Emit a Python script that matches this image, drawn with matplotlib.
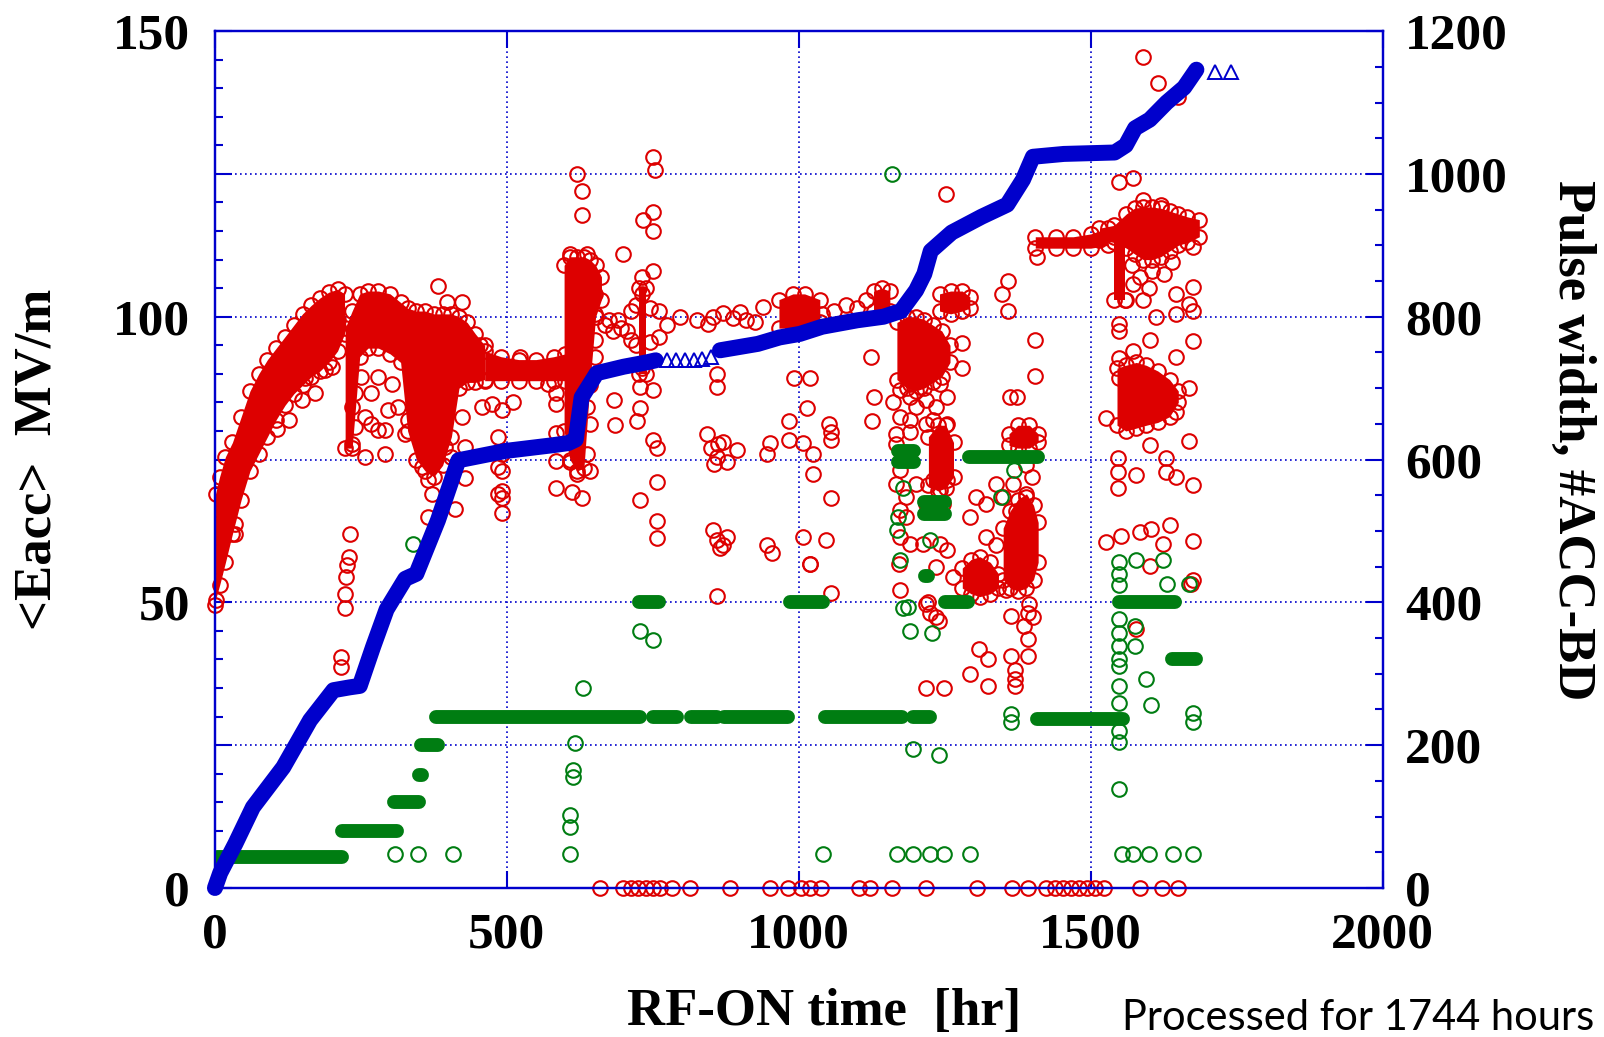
import numpy as np
import matplotlib.pyplot as plt
from matplotlib.ticker import MultipleLocator, FixedLocator, FixedFormatter

RED = '#dd0000'
GREEN = '#007d12'
BLUE = '#0000cc'

# ---- dense red clusters: RF-ON hours, lower / upper <Eacc> edge (MV/m) ----
band_a_t = [1, 8, 18, 30, 45, 60, 75, 90, 105, 120, 135, 150, 165, 180, 195, 210, 222]
band_a_lo = [50.5, 53, 57, 62, 68, 73, 76, 79, 82, 84.5, 86.5, 88, 89.5, 90.5, 92, 94, 97]
band_a_hi = [69, 72, 75.5, 78, 82.5, 87, 90, 92.5, 94.5, 96.5, 98.5, 100.5, 102, 103.3, 104.3, 104.8, 104]

band_b_t = [223, 235, 248, 262, 280, 300, 318, 330, 345, 360, 375, 390, 405, 418, 432, 446, 462]
band_b_lo = [77, 77, 93, 94.5, 94.5, 93.5, 92, 80, 75, 73, 72, 74, 79, 87.5, 88.5, 88.5, 89]
band_b_hi = [98, 101, 104, 104.5, 104.5, 104, 102.5, 101.5, 101, 101, 100.5, 100.5, 100.5, 100, 99, 97, 95]

band_h_t = [462, 490, 520, 550, 580, 600]
band_h_lo = [88.8, 88.8, 88.8, 88.8, 88.8, 88.8]
band_h_hi = [94, 93, 92.5, 92.5, 93, 93.5]

band_c_t = [598, 608, 620, 632, 642, 652, 662]
band_c_lo = [80, 75, 73, 73.5, 88, 100, 103]
band_c_hi = [109, 110.5, 110.5, 110.5, 110, 109, 107]

band_dv_t = [726, 738]
band_dv_lo = [90, 90]
band_dv_hi = [105, 105]

band_e1_t = [966, 990, 1010, 1036]
band_e1_lo = [98, 98, 98.5, 99]
band_e1_hi = [103, 104, 104, 103]

band_e2_t = [1128, 1142, 1156]
band_e2_lo = [101, 100.5, 101]
band_e2_hi = [104.5, 105, 104.5]

band_k_t = [1168, 1185, 1200, 1215, 1230, 1245, 1259]
band_k_lo = [89, 87.5, 87, 87.5, 88.5, 89.5, 92]
band_k_hi = [99, 100, 100, 99.5, 98.5, 97.5, 95]

band_kt_t = [1241, 1260, 1280, 1293]
band_kt_lo = [101, 100.5, 101, 101.5]
band_kt_hi = [104, 104.5, 104.5, 103.5]

band_kc_t = [1222, 1238, 1252, 1265]
band_kc_lo = [70.5, 69.5, 70, 72]
band_kc_hi = [79, 81, 81, 78]

band_l_t = [1350, 1362, 1375, 1390, 1402, 1410]
band_l_lo = [54, 52.5, 52, 52.5, 54, 57]
band_l_hi = [63, 66, 68, 69, 67, 64]

band_lb_t = [1360, 1375, 1395, 1410]
band_lb_lo = [77.5, 77, 77, 78]
band_lb_hi = [79.5, 81, 81, 79.5]

band_m_t = [1280, 1295, 1310, 1328, 1342]
band_m_lo = [52.5, 51.5, 51, 51.5, 52.5]
band_m_hi = [56, 57.5, 58, 57, 55]

band_n_t = [1405, 1440, 1470, 1500, 1530]
band_n_lo = [112, 112, 112, 112, 112.5]
band_n_hi = [114, 114, 114, 114.5, 115.5]

band_p_t = [1515, 1540, 1561, 1575, 1590, 1605, 1620, 1635, 1650, 1665, 1686]
band_p_lo = [113.5, 113, 112, 111, 110, 110, 110.5, 111.5, 112.5, 113, 114]
band_p_hi = [115.5, 116, 118, 119, 119.2, 119.2, 119, 118.5, 118, 117.5, 117]

band_pc_t = [1540, 1558]
band_pc_lo = [103, 103]
band_pc_hi = [114, 114]

band_q_t = [1545, 1560, 1578, 1595, 1615, 1635, 1650]
band_q_lo = [81, 80, 80.5, 81, 81.5, 82.5, 85]
band_q_hi = [91, 91.5, 92, 91.5, 90.5, 89, 87]

red_bands = [
    (band_a_t, band_a_lo, band_a_hi), (band_b_t, band_b_lo, band_b_hi),
    (band_h_t, band_h_lo, band_h_hi), (band_c_t, band_c_lo, band_c_hi),
    (band_dv_t, band_dv_lo, band_dv_hi),
    (band_e1_t, band_e1_lo, band_e1_hi), (band_e2_t, band_e2_lo, band_e2_hi),
    (band_k_t, band_k_lo, band_k_hi), (band_kt_t, band_kt_lo, band_kt_hi),
    (band_kc_t, band_kc_lo, band_kc_hi), (band_l_t, band_l_lo, band_l_hi),
    (band_lb_t, band_lb_lo, band_lb_hi), (band_m_t, band_m_lo, band_m_hi),
    (band_n_t, band_n_lo, band_n_hi), (band_p_t, band_p_lo, band_p_hi),
    (band_pc_t, band_pc_lo, band_pc_hi), (band_q_t, band_q_lo, band_q_hi),
]

# ---- single red points (hours, Eacc) ----
red_pts_early = [(0, 49.5), (34, 63.8), (34, 62), (106, 80.4), (126, 81.9), (149, 85.4), (171, 86.6),
                 (154, 89.2), (189, 90.6), (200, 91.2), (211, 98.2), (211, 99.4), (231, 62), (229, 58),
                 (227, 56.5), (225, 54.5), (223, 51.5), (222, 49), (216, 40.5), (216, 38.6)]
red_pts_b = [(234, 84.2), (257, 82.4), (268, 81.3), (280, 80.1), (291, 80.1), (297, 83.6), (314, 84.2),
             (331, 81.9), (326, 79.5), (291, 76), (257, 75.4), (234, 77.8), (240, 80.7), (280, 89.5),
             (303, 88.3), (268, 86.6), (240, 86.6), (251, 89.5), (457, 84.2), (474, 84.8), (491, 83.6),
             (423, 82.4), (394, 77.2), (405, 75.4), (428, 77.2), (382, 105.4), (397, 102.6), (423, 102.6),
             (355, 73.7), (365, 71.4), (371, 69), (365, 65), (411, 66.4), (429, 71.8), (485, 73.7),
             (485, 69), (492, 65.7), (485, 79), (492, 76)]
red_pts_c = [(510, 85), (492, 73), (492, 69.5), (492, 68.3), (585, 70), (611, 69.3), (629, 68.2),
             (585, 74.8), (585, 79.6), (585, 84.8), (571, 91), (571, 88.2), (585, 86.6), (454, 95),
             (522, 92.9), (620, 125), (629, 122), (629, 117.8), (608, 111), (637, 111), (608, 74.5),
             (620, 72.5), (642, 73), (651, 104), (651, 100.5), (651, 96), (651, 93), (637, 84.2),
             (642, 81.3), (637, 76)]
red_pts_d = [(750, 128), (753, 125.6), (734, 117), (750, 118.3), (750, 115), (699, 111), (750, 108),
             (797, 99.9), (728, 87.7), (750, 87.2), (683, 85.4), (685, 81), (728, 84), (723, 81.8),
             (750, 78.4), (758, 77), (757, 71), (728, 68), (758, 64.3), (758, 61.2), (860, 51.2),
             (668, 98.5), (682, 97.5), (696, 98), (706, 97.5), (675, 99.5), (690, 99.5), (825, 99.4),
             (853, 100), (887, 99.7), (910, 99.4), (939, 101.7), (845, 98.8), (870, 100.6), (900, 100.8),
             (925, 99), (712, 96), (712, 101), (722, 95), (722, 102), (745, 95.5), (745, 101.5),
             (760, 96.5), (760, 101), (775, 98.5), (732, 107), (732, 104), (732, 91)]
red_pts_e = [(842, 79.5), (850, 77), (860, 75.5), (870, 78), (877, 74.5), (855, 74.3), (862, 77.8),
             (853, 62.6), (860, 61), (870, 60), (877, 61.5), (865, 59.6), (895, 76.6), (860, 90),
             (860, 87.7), (951, 77.9), (946, 76), (946, 60), (954, 58.7), (991, 89.3), (1019, 89.3),
             (1014, 84), (984, 81.8), (984, 78.4), (1007, 77.9), (1024, 76), (1024, 72.5), (1007, 61.4),
             (1019, 56.7)]
red_pts_f = [(1124, 92.9), (1128, 85.9), (1126, 81.8), (1052, 81.3), (1056, 79.8), (1056, 78.4),
             (1056, 68.2), (1047, 60.9), (1056, 51.7), (1060, 101), (1080, 102), (1100, 101.5),
             (1040, 100.5), (1115, 103)]
red_pts_k = [(1173, 87.1), (1190, 85.9), (1161, 85.1), (1173, 82.4), (1190, 81.9), (1167, 79.5),
             (1201, 84.2), (1218, 85.4), (1235, 84.2), (1230, 81.9), (1253, 85.9), (1218, 81.3),
             (1241, 88.3), (1190, 88.3), (1207, 87.7), (1167, 77.8), (1190, 79.8), (1253, 81.3),
             (1173, 73.1), (1167, 70.8), (1201, 70.8), (1184, 68.5), (1241, 69.6), (1230, 71.4),
             (1253, 71.4), (1173, 66.1), (1184, 65), (1218, 67.3), (1247, 67.3), (1173, 61.5),
             (1190, 60.3), (1212, 60.3), (1241, 60.3), (1253, 59.1), (1235, 56.2), (1264, 54.5),
             (1173, 52.1), (1218, 49.8), (1235, 47.5), (1280, 95.4), (1280, 91), (1252, 121.5),
             (1172, 56.8)]
red_pts_l = [(1359, 106.3), (1348, 104), (1359, 101), (1404, 96), (1404, 89.7), (1408, 110.4),
             (1362, 85.9), (1374, 85.9), (1293, 65), (1304, 68.5), (1321, 67.3), (1338, 70.8),
             (1350, 68.5), (1367, 70.8), (1372, 66), (1390, 68.5), (1395, 61.5), (1338, 60),
             (1321, 61.5), (1304, 56.2), (1355, 52.1), (1395, 49.8), (1401, 47.5), (1390, 74),
             (1400, 72)]
red_pts_m = [(1218, 35), (1248, 35), (1324, 35.3), (1294, 37.4), (1309, 41.8), (1324, 40), (1370, 38.2),
             (1370, 36.5), (1370, 35.3), (1363, 40.6), (1393, 40.6), (1393, 43.5), (1385, 45.9),
             (1393, 48.2), (1363, 47.6), (1221, 50), (1225, 48.2), (1240, 46.8), (1019, 56.8)]
red_pts_p = [(1590, 145.5), (1615, 141), (1649, 138.4), (1549, 123.6), (1572, 124.2), (1589, 120.4),
             (1621, 119.5), (1675, 112.2), (1646, 104), (1675, 105.2), (1669, 102.2), (1646, 100.5),
             (1675, 101), (1549, 98.7), (1549, 97.5), (1601, 96), (1675, 95.8), (1646, 93), (1572, 94),
             (1549, 92.8), (1549, 89.3), (1669, 87.5), (1646, 83.4), (1526, 82.3), (1669, 78.2),
             (1601, 77.6), (1546, 75.2), (1546, 72.9), (1546, 70), (1578, 72.3), (1629, 72.9),
             (1646, 72), (1675, 70.5), (1629, 75.2), (1526, 60.5), (1552, 61.7), (1584, 62.3),
             (1604, 62.9), (1623, 60.3), (1635, 63.5), (1675, 60.8), (1601, 56.4), (1675, 54),
             (1578, 45.3), (1671, 53.2), (1560, 103), (1572, 105.7), (1590, 103), (1612, 100),
             (1600, 105), (1585, 107), (1605, 108), (1625, 107.5), (1570, 109), (1640, 109.5),
             (1560, 84), (1590, 86), (1620, 85.5), (1575, 88), (1610, 89)]
red_zero_t = [659, 699, 712, 725, 738, 750, 762, 783, 813, 882, 950, 981, 1004, 1019, 1038, 1103,
              1122, 1160, 1218, 1305, 1366, 1393, 1424, 1438, 1452, 1466, 1480, 1494, 1508, 1523,
              1584, 1622, 1649]

# ---- green (pulse width, left scale): bars of dense points (value, from hr, to hr) ----
green_bars = [(5.5, 3, 218), (10, 218, 312), (15, 306, 350), (25, 353, 382), (30, 378, 728),
              (30, 750, 792), (30, 815, 860), (30, 872, 982), (30, 1045, 1176), (30, 1196, 1224),
              (29.5, 1408, 1556), (50, 726, 760), (50, 985, 1042), (50, 1250, 1290), (50, 1548, 1645),
              (75.5, 1292, 1410), (74.5, 1170, 1198), (76.5, 1170, 1198), (65.5, 1214, 1250),
              (67.5, 1214, 1250), (40, 1640, 1680), (54.7, 1216, 1222), (19.8, 350, 355)]
green_pts = [(308, 6), (348, 6), (408, 6), (608, 6), (1042, 6), (1168, 6), (1195, 6), (1225, 6),
             (1248, 6), (1294, 6), (1553, 6), (1573, 6), (1599, 6), (1641, 6), (1676, 6),
             (340, 60.3), (630, 35), (616, 25.4), (613, 19.5), (613, 20.7), (608, 12.7), (608, 10.6),
             (728, 45), (750, 43.4), (1159, 125), (1178, 70), (1170, 65), (1168, 62.6), (1173, 57.5),
             (1224, 60.9), (1347, 68.4), (1369, 73.2), (1178, 49), (1187, 49.1), (1191, 45),
             (1229, 44.7), (1195, 24.4), (1240, 23.2),
             (1549, 57), (1549, 55), (1549, 53), (1549, 47), (1549, 44.7), (1549, 42.4), (1549, 40),
             (1549, 38.8), (1549, 35.3), (1549, 32.4), (1549, 27.4), (1549, 25.6), (1549, 17.4),
             (1578, 57.5), (1623, 57.5), (1630, 53.3), (1669, 53.3), (1576, 45.9), (1576, 42.4),
             (1595, 36.5), (1603, 32), (1675, 29), (1675, 30.6), (1363, 29), (1363, 30.5)]

# ---- blue: accumulated #ACC-BD (right scale) ----
blue_t = [0, 9, 35, 65, 117, 163, 203, 231, 248, 271, 294, 326, 345, 382, 417, 454, 497, 578,
          605, 618, 628, 654, 700, 739, 755]
blue_n = [0, 21, 62, 113, 169, 235, 277, 281, 283, 338, 390, 433, 440, 515, 599, 605, 612, 620,
          623, 628, 687, 721, 730, 736, 739]
blue2_t = [865, 930, 967, 1002, 1040, 1100, 1145, 1175, 1201, 1215, 1226, 1262, 1313, 1357, 1384,
           1401, 1454, 1541, 1560, 1576, 1601, 1630, 1660, 1681]
blue2_n = [753, 762, 771, 776, 786, 795, 800, 808, 837, 860, 892, 918, 940, 957, 992, 1024, 1028,
           1030, 1040, 1064, 1076, 1100, 1121, 1146]
blue_open_t = [775, 790, 805, 820, 835, 850, 1713, 1741]
blue_open_n = [739, 739, 740, 740, 741, 743, 1143, 1143]

serif = 'Liberation Serif'

fig = plt.figure(figsize=(16.04, 10.37), dpi=100)
ax = fig.add_axes([0.134, 0.1437, 0.728, 0.8263])
ax2 = ax.twinx()

ms = 10.5
mew = 1.5

# red
for t, lo, hi in red_bands:
    ax.fill_between(t, lo, hi, color=RED, lw=0, zorder=2)
    ax.plot(t, lo, 'o', mfc='none', mec=RED, ms=ms, mew=mew, zorder=2, clip_on=False)
    ax.plot(t, hi, 'o', mfc='none', mec=RED, ms=ms, mew=mew, zorder=2, clip_on=False)

red_all = (red_pts_early + red_pts_b + red_pts_c + red_pts_d + red_pts_e + red_pts_f
           + red_pts_k + red_pts_l + red_pts_m + red_pts_p)
rt, re = zip(*red_all)
ax.plot(rt, re, 'o', mfc='none', mec=RED, ms=ms, mew=mew, zorder=2, clip_on=False)
ax.plot(red_zero_t, np.zeros(len(red_zero_t)), 'o', mfc='none', mec=RED, ms=ms, mew=mew,
        zorder=2, clip_on=False)

# green
for val, t0, t1 in green_bars:
    ax.plot([t0, t1], [val, val], color=GREEN, lw=10, solid_capstyle='round', zorder=3)
gt, ge = zip(*green_pts)
ax.plot(gt, ge, 'o', mfc='none', mec=GREEN, ms=ms, mew=mew, zorder=3, clip_on=False)

# blue on right axis
for bt, bn in [(blue_t, blue_n), (blue2_t, blue2_n)]:
    ax2.plot(bt, bn, color=BLUE, lw=11.5, solid_capstyle='round', solid_joinstyle='round',
             zorder=4, clip_on=False)
ax2.plot(blue_open_t, blue_open_n, '^', mfc='none', mec=BLUE, ms=10, mew=1.4, zorder=4,
         clip_on=False)

# axes
ax.set_xlim(0, 2000)
ax.set_ylim(0, 150)
ax2.set_ylim(0, 1200)

ax.xaxis.set_major_locator(FixedLocator([0, 500, 1000, 1500, 2000]))
ax.yaxis.set_major_locator(FixedLocator([0, 25, 50, 75, 100, 125, 150]))
ax.yaxis.set_major_formatter(FixedFormatter(['0', '', '50', '', '100', '', '150']))
ax.yaxis.set_minor_locator(MultipleLocator(5))
ax2.yaxis.set_major_locator(MultipleLocator(200))
ax2.yaxis.set_minor_locator(MultipleLocator(50))

ax.grid(True, which='major', color=BLUE, ls=(0, (1, 2)), lw=1.2)
ax.set_axisbelow(True)

for a in (ax, ax2):
    for sp in a.spines.values():
        sp.set_color(BLUE)
        sp.set_linewidth(1.6)

ax.tick_params(axis='both', which='major', direction='in', length=12, width=1.5, color=BLUE,
               labelsize=37, pad=18, top=True, right=False)
ax.tick_params(axis='y', which='minor', direction='in', length=6, width=1.5, color=BLUE)
ax2.tick_params(axis='y', which='major', direction='in', length=12, width=1.5, color=BLUE,
                labelsize=37, pad=16)
ax2.tick_params(axis='y', which='minor', direction='in', length=6, width=1.5, color=BLUE)

for lab in ax.get_xticklabels() + ax.get_yticklabels() + ax2.get_yticklabels():
    lab.set_fontfamily(serif)
    lab.set_fontweight('bold')

ax.set_xlabel('RF-ON time  [hr]', fontfamily=serif, fontweight='bold', fontsize=38, va='center')
ax.xaxis.set_label_coords(0.522, -0.145)
ax.set_ylabel('<Eacc>  MV/m', fontfamily=serif, fontweight='bold', fontsize=38, va='center')
ax.yaxis.set_label_coords(-0.152, 0.5)
ax2.set_ylabel('Pulse width, #ACC-BD', fontfamily=serif, fontweight='bold', fontsize=38,
               rotation=-90, va='center')
ax2.yaxis.set_label_coords(1.162, 0.523)

fig.text(0.6995, 0.007, 'Processed for 1744 hours', fontfamily='Lato', fontsize=30,
         va='baseline', ha='left')

fig.savefig('out.png', dpi=100)
